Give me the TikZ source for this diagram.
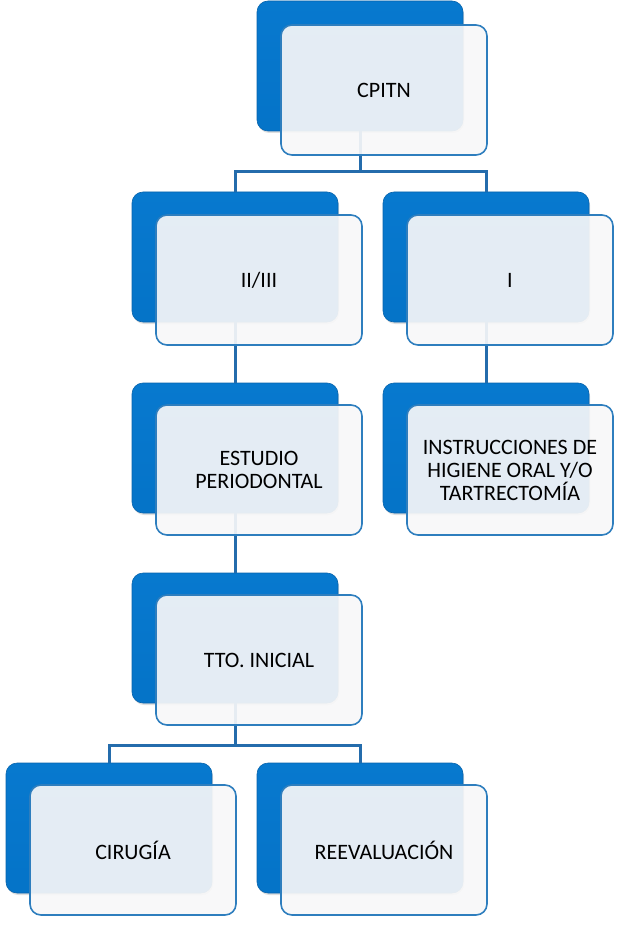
\documentclass[tikz,border=0pt]{standalone}
\usepackage{fontspec}
\setmainfont{Carlito}
\usetikzlibrary{shadows}
\definecolor{linec}{RGB}{36,108,172}
\definecolor{btop}{RGB}{60,160,232}
\definecolor{bmid}{RGB}{8,122,208}
\definecolor{bmid2}{RGB}{4,114,198}
\definecolor{bbot}{RGB}{2,92,168}
\definecolor{bdraw}{RGB}{8,100,172}
\definecolor{wfill}{RGB}{247,247,248}
\definecolor{wdraw}{RGB}{46,126,190}
\pgfdeclareverticalshading{bluegloss}{100bp}{color(0bp)=(bbot); color(4bp)=(bbot); color(12bp)=(bmid2); color(85bp)=(bmid); color(93bp)=(bmid); color(97bp)=(btop); color(100bp)=(btop)}
\begin{document}
\begin{tikzpicture}[x=1pt,y=-1pt,
  bluebox/.style={rounded corners=11pt, minimum width=206pt, minimum height=130pt,
    inner sep=0pt, outer sep=0pt, shading=bluegloss,
    draw=bdraw, line width=0.6pt,
    drop shadow={opacity=0.25, shadow xshift=1pt, shadow yshift=-2pt}},
  whitebox/.style={rounded corners=11pt, minimum width=206pt, minimum height=130pt,
    inner sep=0pt, outer sep=0pt, fill=wfill, fill opacity=0.92, text opacity=1,
    draw=wdraw, line width=1.6pt, align=center, text=black,
    font=\fontsize{22}{23}\selectfont},
  conn/.style={draw=linec, line width=3pt}]
\useasboundingbox (0,0) rectangle (620,925);
% blue back boxes
\node[bluebox] (Ab) at (360,66) {};
\node[bluebox] (Bb) at (235,257) {};
\node[bluebox] (Cb) at (486,257) {};
\node[bluebox] (Db) at (235,448) {};
\node[bluebox] (Eb) at (486,448) {};
\node[bluebox] (Fb) at (235,638) {};
\node[bluebox] (Gb) at (109,828) {};
\node[bluebox] (Hb) at (360,828) {};
% connectors
\draw[conn] (Ab.south) -- ++(0,41) -| (Bb.north);
\draw[conn] (Ab.south) -- ++(0,41) -| (Cb.north);
\draw[conn] (Bb.south) -- (Db.north);
\draw[conn] (Cb.south) -- (Eb.north);
\draw[conn] (Db.south) -- (Fb.north);
\draw[conn] (Fb.south) -- ++(0,42) -| (Gb.north);
\draw[conn] (Fb.south) -- ++(0,42) -| (Hb.north);
% front boxes
\node[whitebox] (A) at (384,90) {CPITN};
\node[whitebox] (B) at (259,280) {II/III};
\node[whitebox] (C) at (510,280) {I};
\node[whitebox] (D) at (259,470) {ESTUDIO\\PERIODONTAL};
\node[whitebox] (E) at (510,470) {INSTRUCCIONES DE\\HIGIENE ORAL Y/O\\TARTRECTOMÍA};
\node[whitebox] (F) at (259,660) {TTO. INICIAL};
\node[whitebox] (G) at (133,850) {CIRUGÍA};
\node[whitebox] (H) at (384,850) {REEVALUACIÓN};
\end{tikzpicture}
\end{document}
